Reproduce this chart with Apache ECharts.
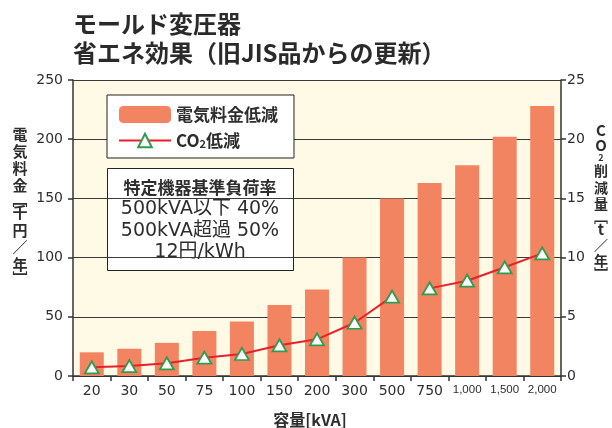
<!DOCTYPE html>
<html>
<head>
<meta charset="utf-8">
<script src="https://cdn.jsdelivr.net/npm/echarts@6/dist/echarts.min.js"></script>
<style>
  html, body { margin: 0; padding: 0; background: #fff; }
  #chart { width: 612px; height: 428px; }
</style>
</head>
<body>
<div id="chart"></div>
<script>
// ---- data ----
const categories = ['20', '30', '50', '75', '100', '150', '200', '300', '500', '750', '1,000', '1,500', '2,000'];
const costSaving = [20, 23, 28, 38, 46, 60, 73, 100, 150, 163, 178, 202, 228];   // 千円/年
const co2Saving = [0.73, 0.84, 1.07, 1.55, 1.86, 2.59, 3.1, 4.5, 6.7, 7.4, 8.05, 9.18, 10.36]; // t/年
const breakIndex = 9; // from 750kVA the load rate changes (50%), line is split
const costTicks = [0, 50, 100, 150, 200, 250];
const co2Ticks = [0, 5, 10, 15, 20, 25];
const titleLines = ['モールド変圧器', '省エネ効果（旧JIS品からの更新）'];
const noteHeader = '特定機器基準負荷率';
const noteLines = ['500kVA以下 40%', '500kVA超過 50%', '12円/kWh'];
const leftAxisTitle = ['電', '気', '料', '金', '﹇', '千', '円', '／', '年', '﹈'];
const rightAxisTitle = ['C', 'O', '2', '削', '減', '量', '﹇', 't', '／', '年', '﹈'];

const co2Low = co2Saving.map((v, i) => (i < breakIndex ? v : null));
const co2High = co2Saving.map((v, i) => (i >= breakIndex ? v : null));

const CJK = '"Noto Sans CJK JP", sans-serif';
const NUM = '"DejaVu Sans", "Noto Sans CJK JP", sans-serif';
const TXT = '#2e2e2e';

// vertical (upright, stacked) axis title as rich text
function verticalRich(chars, size) {
  const text = chars.map(c => {
    if (c === '﹇' || c === '﹈') return '{br|' + c + '}';
    if (c === '2') return '{sub|' + c + '}';
    if (/[A-Za-z]/.test(c)) return '{lat|' + c + '}';
    return '{cj|' + c + '}';
  }).join('\n');
  return {
    text: text,
    rich: {
      cj: { fontFamily: CJK, fontSize: size, fontWeight: 'bold', lineHeight: size + 2.2, fill: TXT, align: 'center' },
      lat: { fontFamily: CJK, fontSize: size + 1, fontWeight: 'bold', lineHeight: size + 1, fill: TXT, align: 'center' },
      br: { fontFamily: CJK, fontSize: size, fontWeight: 'bold', lineHeight: 10, fill: TXT, align: 'center' },
      sub: { fontFamily: CJK, fontSize: 9, fontWeight: 'bold', lineHeight: 10, fill: TXT, align: 'center' }
    }
  };
}

const chart = echarts.init(document.getElementById('chart'), null, { renderer: 'canvas' });

const lineCommon = {
  type: 'line',
  name: 'CO2低減',
  yAxisIndex: 1,
  symbol: 'triangle',
  symbolSize: [14, 12],
  connectNulls: false,
  itemStyle: { color: '#ffffff', borderColor: '#2f9c50', borderWidth: 1.8 },
  lineStyle: { color: '#e8202a', width: 2 },
  z: 5
};

const leftTitle = verticalRich(leftAxisTitle, 15);
const rightTitle = verticalRich(rightAxisTitle, 14);

chart.setOption({
  animation: false,
  backgroundColor: '#ffffff',
  title: {
    text: titleLines.join('\n'),
    left: 73,
    top: 9,
    padding: 0,
    textStyle: { fontFamily: CJK, fontSize: 24, fontWeight: 'bold', color: '#2a2a2a', lineHeight: 29 }
  },
  grid: {
    left: 73, right: 51, top: 80, bottom: 52,
    outerBoundsMode: 'none',
    containLabel: false,
    show: true, backgroundColor: '#fffae6', borderWidth: 0
  },
  legend: {
    orient: 'vertical',
    left: 107,
    top: 95,
    data: ['電気料金低減', 'CO2低減'],
    itemWidth: 52,
    itemHeight: 17,
    itemGap: 9,
    padding: [11, 16, 9, 11],
    backgroundColor: '#ffffff',
    borderColor: '#222',
    borderWidth: 1,
    borderRadius: 0,
    formatter: n => (n === 'CO2低減' ? 'CO{sub|2}低減' : n),
    textStyle: {
      fontFamily: CJK, fontSize: 17, fontWeight: 'bold', color: TXT,
      rich: { sub: { fontFamily: CJK, fontSize: 11, fontWeight: 'bold', color: TXT, verticalAlign: 'bottom' } }
    },
    z: 10
  },
  xAxis: {
    type: 'category',
    data: categories,
    boundaryGap: true,
    name: '容量[kVA]',
    nameLocation: 'middle',
    nameGap: 36,
    nameTextStyle: { fontFamily: CJK, fontSize: 16, fontWeight: 'bold', color: TXT, padding: [0, 14, 0, 0] },
    axisLine: { lineStyle: { color: '#333', width: 1.5 } },
    axisTick: { show: true, alignWithLabel: false, length: 5, inside: false, lineStyle: { color: '#333', width: 1.5 } },
    axisLabel: {
      interval: 0,
      margin: 8,
      fontFamily: NUM, fontSize: 14, color: TXT,
      formatter: v => (v.indexOf(',') >= 0 ? '{s|' + v + '}' : v),
      rich: { s: { fontFamily: '"Liberation Sans", sans-serif', fontSize: 11.5, color: TXT } }
    }
  },
  yAxis: [
    {
      type: 'value',
      min: costTicks[0], max: costTicks[costTicks.length - 1], interval: costTicks[1] - costTicks[0],
      axisLine: { show: true, lineStyle: { color: '#333', width: 1.5 } },
      axisTick: { show: true, length: 5, lineStyle: { color: '#333', width: 1.5 } },
      axisLabel: { margin: 10, fontFamily: NUM, fontSize: 14, color: TXT },
      splitLine: { show: true, lineStyle: { color: '#3a3a3a', width: 1.2 } }
    },
    {
      type: 'value',
      position: 'right',
      min: co2Ticks[0], max: co2Ticks[co2Ticks.length - 1], interval: co2Ticks[1] - co2Ticks[0],
      axisLine: { show: true, lineStyle: { color: '#333', width: 1.5 } },
      axisTick: { show: true, length: 5, lineStyle: { color: '#333', width: 1.5 } },
      axisLabel: { margin: 6, fontFamily: NUM, fontSize: 14, color: TXT },
      splitLine: { show: false }
    }
  ],
  series: [
    {
      type: 'bar',
      name: '電気料金低減',
      data: costSaving,
      barWidth: '64%',
      itemStyle: { color: '#f38461' },
      z: 2
    },
    Object.assign({}, lineCommon, { data: co2Low }),
    Object.assign({}, lineCommon, { data: co2High })
  ],
  graphic: [
    {
      type: 'text',
      x: 20, y: 204,
      style: Object.assign({ align: 'center', verticalAlign: 'middle' }, leftTitle)
    },
    {
      type: 'text',
      x: 601, y: 201,
      style: Object.assign({ align: 'center', verticalAlign: 'middle' }, rightTitle)
    },
    {
      type: 'group',
      z: 100,
      children: [
        {
          type: 'rect',
          shape: { x: 107.5, y: 168.5, width: 186, height: 102 },
          style: { fill: '#ffffff', stroke: '#222', lineWidth: 1 }
        },
        {
          type: 'text',
          x: 200, y: 220,
          style: {
            text: '{h|' + noteHeader + '}\n' + noteLines.map(l => '{b|' + l + '}').join('\n'),
            align: 'center', verticalAlign: 'middle',
            fill: TXT,
            rich: {
              h: { fontFamily: CJK, fontSize: 17, fontWeight: 'bold', lineHeight: 21.5, fill: TXT, align: 'center' },
              b: { fontFamily: NUM, fontSize: 19, fontWeight: 'normal', lineHeight: 21.5, fill: TXT, align: 'center' }
            }
          }
        }
      ]
    }
  ]
});
</script>
</body>
</html>
